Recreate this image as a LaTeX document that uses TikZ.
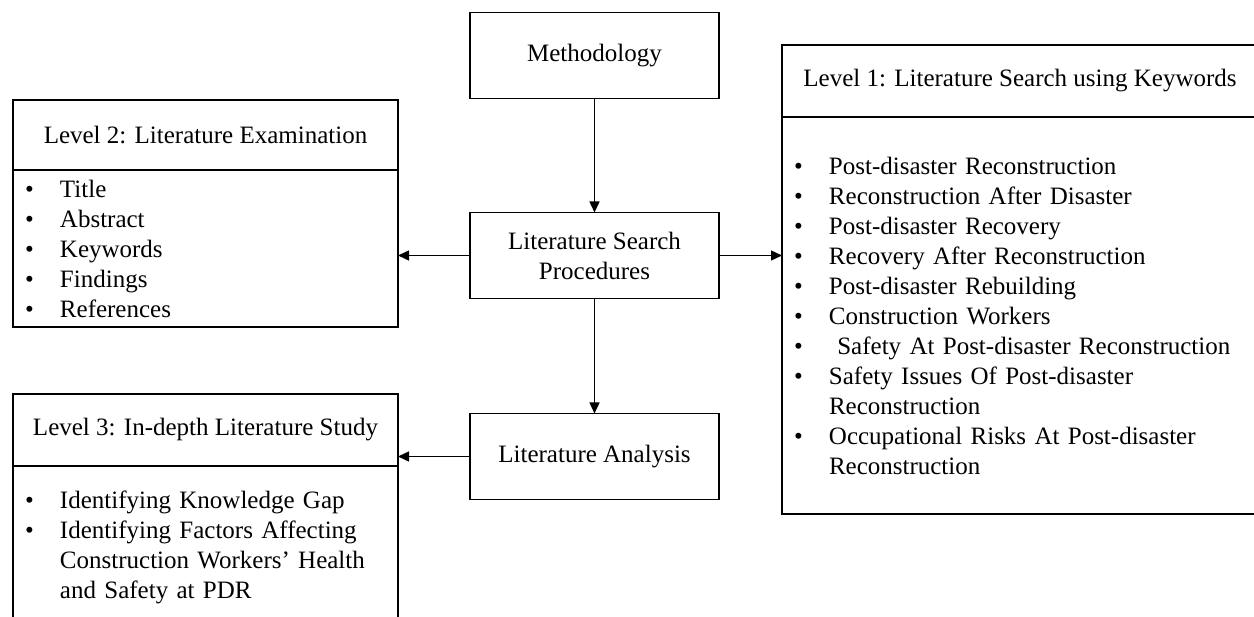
\documentclass[tikz,border=0pt]{standalone}
\usepackage{fontspec}
\setmainfont{Liberation Serif}
\usetikzlibrary{positioning,arrows.meta}
\newcommand{\bitem}[1]{\makebox[35pt][l]{\textbullet}#1}
\newcommand{\bcont}[1]{\hspace*{35pt}#1}

\begin{document}
\begin{tikzpicture}[x=1pt,y=-1pt,node distance=114pt,font=\fontsize{25}{30}\selectfont]
                \tikzstyle{stepbox} = [rectangle, draw=black, line width=1.6pt, outer sep=0pt, minimum width=249pt, minimum height=86pt, inner sep=0pt, align=center]
                \tikzstyle{headbox} = [rectangle, draw=black, line width=1.6pt, outer sep=0pt, minimum width=385pt, minimum height=70pt, inner sep=0pt]
                \tikzstyle{listbox} = [rectangle, draw=black, line width=1.6pt, outer sep=0pt, minimum width=385pt, text width=361pt, inner xsep=12pt, inner ysep=0pt, align=left]
                \tikzstyle{arrow} = [line width=1.4pt, -{Triangle[length=11pt,width=10pt]}]

                \useasboundingbox (0,0) rectangle (1254,617);

                \node (method) [stepbox] at (594.5,55.5) {Methodology};
                \node (search) [stepbox, below=of method] {Literature Search\\Procedures};
                \node (analysis) [stepbox, below=115pt of search] {Literature Analysis};

                \node (l2head) [headbox] at (205.5,135) {Level 2: Literature Examination};
                \node (l2list) [listbox, minimum height=157pt, below=0pt of l2head] {\bitem{Title}\\\bitem{Abstract}\\\bitem{Keywords}\\\bitem{Findings}\\\bitem{References}};

                \node (l3head) [headbox, minimum height=72pt] at (205.5,430) {Level 3: In-depth Literature Study};
                \node (l3list) [listbox, minimum height=162pt, below=0pt of l3head] {\bitem{Identifying Knowledge Gap}\\\bitem{Identifying Factors Affecting}\\\bcont{Construction Workers’ Health}\\\bcont{and Safety at PDR}};

                \node (l1head) [headbox, minimum width=476pt, minimum height=72pt] at (1020,81) {Level 1: Literature Search using Keywords};
                \node (l1list) [listbox, minimum width=476pt, text width=452pt, minimum height=397pt, below=0pt of l1head] {\bitem{Post-disaster Reconstruction}\\\bitem{Reconstruction After Disaster}\\\bitem{Post-disaster Recovery}\\\bitem{Recovery After Reconstruction}\\\bitem{Post-disaster Rebuilding}\\\bitem{Construction Workers}\\\bitem{\ Safety At Post-disaster Reconstruction}\\\bitem{Safety Issues Of Post-disaster}\\\bcont{Reconstruction}\\\bitem{Occupational Risks At Post-disaster}\\\bcont{Reconstruction}};

                \draw [arrow] (method) -- (search);
                \draw [arrow] (search) -- (analysis);
                \draw [arrow] (search.west) -- (search.west -| l2list.east);
                \draw [arrow] (search.east) -- (search.east -| l1list.west);
                \draw [arrow] (analysis.west) -- (analysis.west -| l3head.east);
            \end{tikzpicture}
\end{document}
